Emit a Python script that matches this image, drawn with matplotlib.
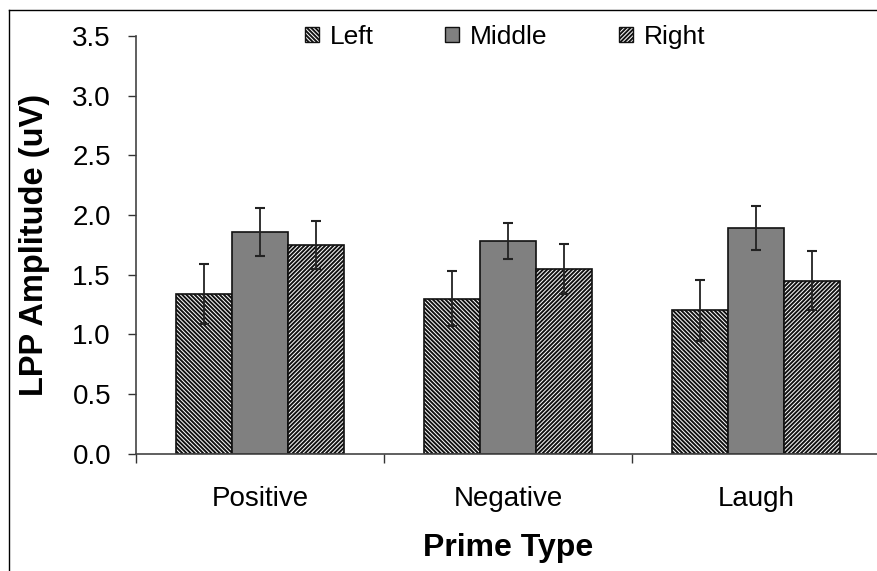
import numpy as np
import matplotlib
matplotlib.use("Agg")
import matplotlib.pyplot as plt
from matplotlib.patches import Patch
from matplotlib.lines import Line2D

plt.rcParams["font.family"] = ["Liberation Sans", "DejaVu Sans"]
plt.rcParams["hatch.linewidth"] = 1.4
plt.rcParams["hatch.color"] = "black"

# LPP amplitude by prime type and electrode site
prime_types = ["Positive", "Negative", "Laugh"]
sites = ["Left", "Middle", "Right"]
left_vals = [1.34, 1.30, 1.20]
middle_vals = [1.86, 1.78, 1.89]
right_vals = [1.75, 1.55, 1.45]
left_err = [0.25, 0.23, 0.255]
middle_err = [0.20, 0.15, 0.185]
right_err = [0.20, 0.21, 0.245]

fig = plt.figure(figsize=(8.78, 5.71), dpi=100)
ax = fig.add_axes([136 / 878, 117.3 / 571, 744 / 878, 417.7 / 571])

x = np.arange(len(prime_types))
w = 0.225
series = [
    (left_vals, left_err, -w, dict(facecolor="white", hatch="\\" * 8)),
    (middle_vals, middle_err, 0.0, dict(facecolor="#808080")),
    (right_vals, right_err, w, dict(facecolor="white", hatch="/" * 8)),
]
handles = []
for (vals, err, off, style), name in zip(series, sites):
    ax.bar(x + off, vals, width=w, edgecolor="#111111", linewidth=1.2, zorder=2, **style)
    ax.errorbar(x + off, vals, yerr=err, fmt="none", ecolor="#222222",
                elinewidth=1.3, capsize=3.3, capthick=1.5, zorder=3)
    handles.append(Patch(edgecolor="#111111", linewidth=1.0, label=name, **style))

ax.set_xlim(-0.5, 2.5)
ax.set_ylim(0, 3.5)
ax.set_yticks(np.arange(0, 3.51, 0.5))
ax.set_yticklabels([f"{v:.1f}" for v in np.arange(0, 3.51, 0.5)])
ax.set_xticks(x)
ax.set_xticklabels(prime_types)
ax.set_xticks(np.arange(-0.5, 2.6, 1.0), minor=True)
ax.tick_params(axis="x", which="major", length=0, pad=23, labelsize=20)
ax.tick_params(axis="x", which="minor", length=6.5, width=1.0, color="#333333")
ax.tick_params(axis="y", length=6, width=1.0, color="#333333", labelsize=20, pad=12)

for side in ("top", "right"):
    ax.spines[side].set_visible(False)
for side in ("left", "bottom"):
    ax.spines[side].set_color("#444444")
    ax.spines[side].set_linewidth(1.2)

ax.set_ylabel("LPP Amplitude (uV)", fontsize=23.5, fontweight="bold", va="center")
ax.set_xlabel("Prime Type", fontsize=23, fontweight="bold", va="center")
ax.yaxis.set_label_coords(-0.1365, 0.5)
ax.xaxis.set_label_coords(0.5, -0.2257)

fig.legend(handles=handles, loc="center", bbox_to_anchor=(505 / 878, 1 - 37 / 571),
           ncol=3, frameon=False, fontsize=19, handlelength=0.53, handleheight=0.53,
           handletextpad=0.42, columnspacing=2.7)

# chart border along the left and top edges
fig.add_artist(Line2D([9.5 / 878, 9.5 / 878], [0, 1 - 9.5 / 571], color="black",
                      linewidth=1.0, transform=fig.transFigure))
fig.add_artist(Line2D([9.5 / 878, 1], [1 - 9.5 / 571, 1 - 9.5 / 571], color="black",
                      linewidth=1.0, transform=fig.transFigure))

fig.savefig("out.png", dpi=100)
